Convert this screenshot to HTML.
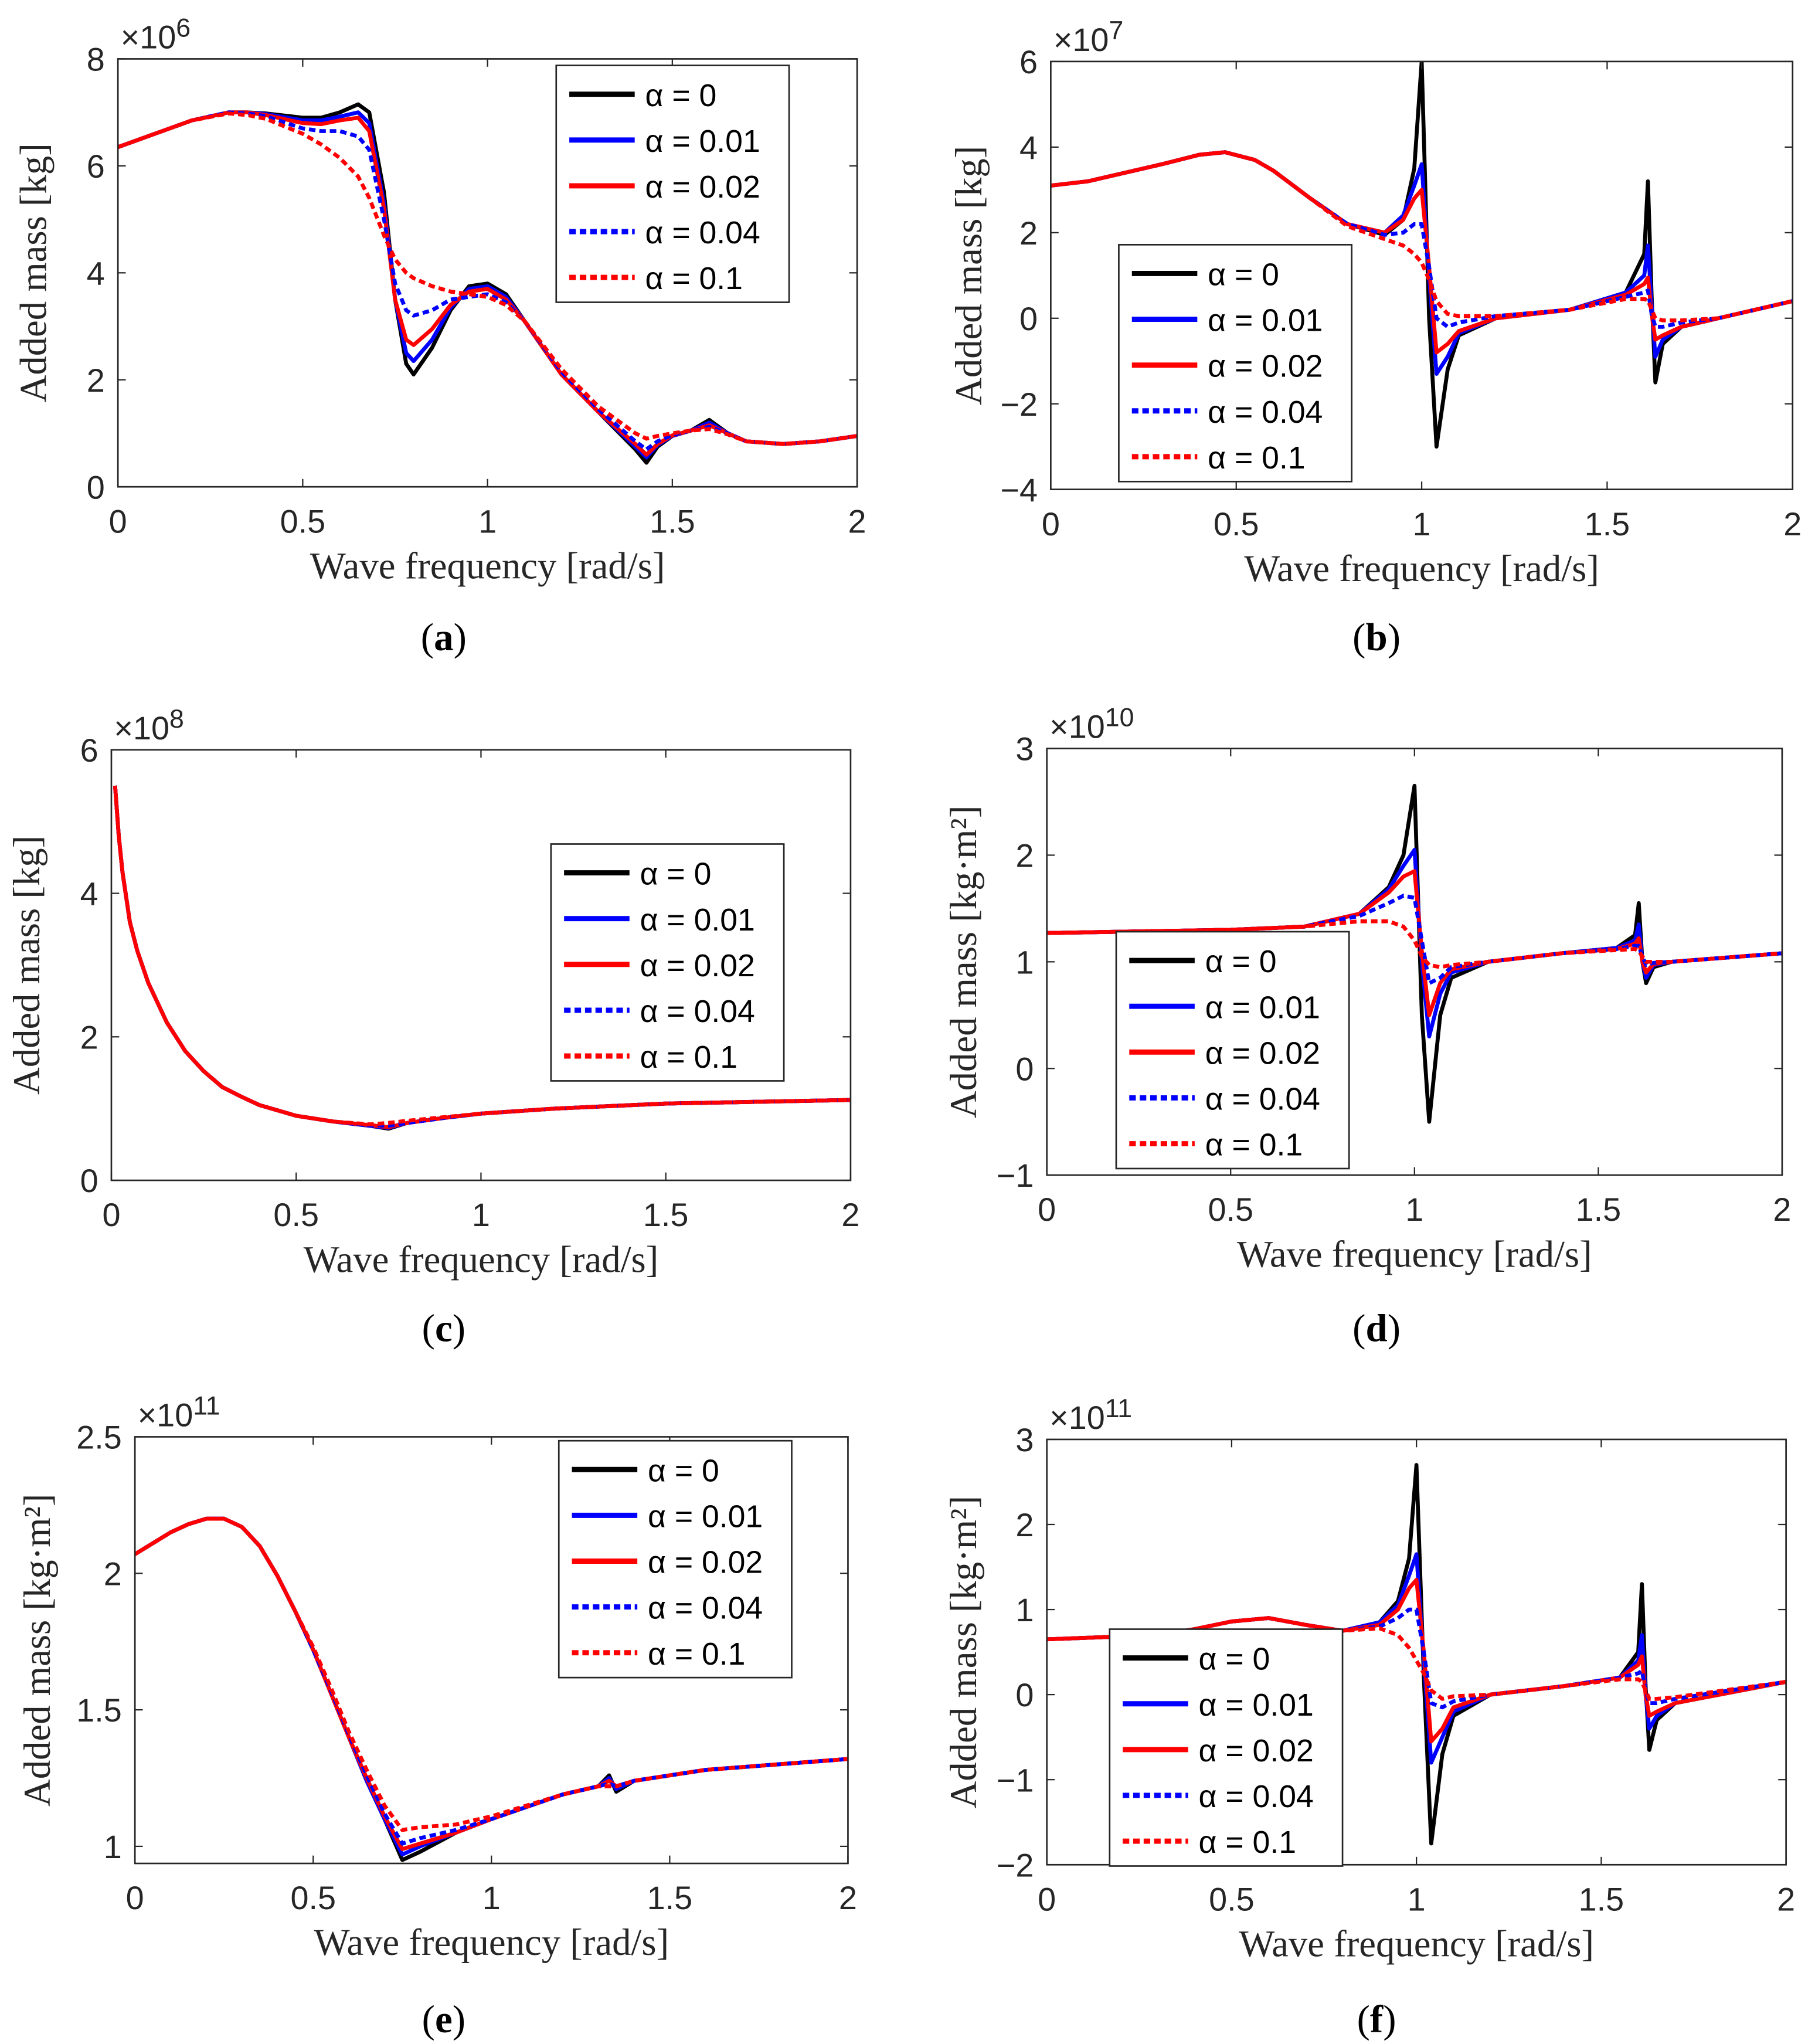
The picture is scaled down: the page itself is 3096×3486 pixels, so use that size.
<!DOCTYPE html>
<html><head><meta charset="utf-8"><style>
html,body{margin:0;padding:0;background:#fff;}
svg{display:block;}
</style></head><body>
<svg id="fig" width="3096" height="3486" viewBox="0 0 1387 1562" xmlns="http://www.w3.org/2000/svg"></svg>
<script>
// ---------- data ----------
const labels = ["α = 0","α = 0.01","α = 0.02","α = 0.04","α = 0.1"];
const xTicks = [0,0.5,1,1.5,2];
const xTickLabels = ["0","0.5","1","1.5","2"];

const aX = [0,0.1,0.2,0.3,0.35,0.4,0.5,0.55,0.6,0.65,0.68,0.72,0.75,0.78,0.8,0.85,0.9,0.95,1.0,1.05,1.1,1.2,1.3,1.4,1.43,1.46,1.5,1.55,1.6,1.65,1.7,1.8,1.9,2.0];
const aS0 = [6.35,6.6,6.85,7.0,7.0,6.98,6.9,6.9,7.0,7.15,7.0,5.5,3.5,2.3,2.1,2.6,3.3,3.75,3.8,3.6,3.1,2.1,1.4,0.7,0.45,0.75,0.95,1.05,1.25,1.0,0.85,0.8,0.85,0.95];
const aS1 = [6.35,6.6,6.85,7.0,7.0,6.97,6.85,6.85,6.92,7.0,6.8,5.3,3.5,2.5,2.35,2.75,3.35,3.7,3.75,3.55,3.1,2.1,1.4,0.75,0.55,0.78,0.95,1.05,1.2,1.0,0.85,0.8,0.85,0.95];
const aS2 = [6.35,6.6,6.85,7.0,7.0,6.95,6.8,6.78,6.85,6.9,6.65,5.2,3.5,2.75,2.65,2.95,3.4,3.65,3.7,3.5,3.1,2.1,1.4,0.8,0.6,0.8,0.96,1.05,1.15,1.0,0.85,0.8,0.85,0.95];
const aS3 = [6.35,6.6,6.85,7.0,6.98,6.93,6.7,6.65,6.65,6.55,6.3,5.0,3.8,3.3,3.2,3.3,3.5,3.55,3.6,3.45,3.1,2.15,1.45,0.85,0.7,0.85,0.97,1.05,1.12,1.0,0.85,0.8,0.85,0.95];
const aS4 = [6.35,6.6,6.85,6.98,6.95,6.88,6.6,6.4,6.15,5.8,5.4,4.7,4.25,4.0,3.9,3.75,3.65,3.6,3.55,3.4,3.1,2.2,1.5,1.0,0.9,0.95,1.0,1.05,1.08,0.98,0.85,0.8,0.85,0.95];

const bX = [0,0.1,0.2,0.3,0.4,0.47,0.55,0.6,0.7,0.8,0.9,0.95,0.98,1.0,1.02,1.04,1.07,1.1,1.2,1.4,1.55,1.6,1.61,1.62,1.63,1.65,1.7,1.8,2.0];
const bS0 = [3.1,3.2,3.4,3.6,3.82,3.88,3.7,3.45,2.8,2.2,1.95,2.3,3.5,6.0,0.0,-3.0,-1.2,-0.4,0.0,0.2,0.6,1.5,3.2,0.5,-1.5,-0.6,-0.2,0.0,0.4];
const bS1 = [3.1,3.2,3.4,3.6,3.82,3.88,3.7,3.45,2.8,2.2,2.0,2.4,3.1,3.6,1.0,-1.3,-0.9,-0.35,0.0,0.2,0.6,1.0,1.7,0.3,-0.9,-0.5,-0.2,0.0,0.4];
const bS2 = [3.1,3.2,3.4,3.6,3.82,3.88,3.7,3.45,2.8,2.2,2.0,2.3,2.8,3.0,1.2,-0.8,-0.6,-0.3,0.0,0.2,0.55,0.8,0.95,0.1,-0.5,-0.4,-0.2,0.0,0.4];
const bS3 = [3.1,3.2,3.4,3.6,3.82,3.88,3.7,3.45,2.8,2.2,1.95,2.0,2.2,2.2,1.2,0.0,-0.2,-0.1,0.05,0.2,0.5,0.6,0.65,0.1,-0.2,-0.2,-0.1,0.0,0.4];
const bS4 = [3.1,3.2,3.4,3.6,3.82,3.88,3.7,3.45,2.8,2.15,1.85,1.7,1.5,1.3,0.9,0.4,0.1,0.05,0.05,0.2,0.45,0.45,0.42,0.2,0.0,-0.05,-0.05,0.0,0.4];

const cX = [0.01,0.02,0.03,0.05,0.07,0.1,0.15,0.2,0.25,0.3,0.35,0.4,0.5,0.6,0.7,0.75,0.8,0.9,1.0,1.2,1.5,2.0];
const cS0 = [5.5,4.8,4.3,3.6,3.2,2.75,2.2,1.8,1.52,1.3,1.17,1.05,0.9,0.82,0.76,0.72,0.8,0.87,0.93,1.0,1.07,1.12];
const cS1 = [5.5,4.8,4.3,3.6,3.2,2.75,2.2,1.8,1.52,1.3,1.17,1.05,0.9,0.82,0.76,0.73,0.8,0.87,0.93,1.0,1.07,1.12];
const cS2 = [5.5,4.8,4.3,3.6,3.2,2.75,2.2,1.8,1.52,1.3,1.17,1.05,0.9,0.82,0.77,0.74,0.8,0.87,0.93,1.0,1.07,1.12];
const cS3 = [5.5,4.8,4.3,3.6,3.2,2.75,2.2,1.8,1.52,1.3,1.17,1.05,0.9,0.82,0.77,0.76,0.8,0.87,0.93,1.0,1.07,1.12];
const cS4 = [5.5,4.8,4.3,3.6,3.2,2.75,2.2,1.8,1.52,1.3,1.17,1.05,0.9,0.82,0.78,0.8,0.83,0.88,0.93,1.0,1.07,1.12];

const dX = [0,0.5,0.7,0.85,0.93,0.97,1.0,1.02,1.04,1.07,1.1,1.2,1.4,1.55,1.6,1.61,1.62,1.63,1.65,1.7,2.0];
const dS0 = [1.27,1.3,1.33,1.45,1.7,2.0,2.65,0.5,-0.5,0.5,0.85,1.0,1.08,1.13,1.25,1.55,1.0,0.8,0.95,1.0,1.08];
const dS1 = [1.27,1.3,1.33,1.45,1.68,1.9,2.05,1.0,0.3,0.7,0.9,1.0,1.08,1.13,1.2,1.35,1.0,0.85,0.97,1.0,1.08];
const dS2 = [1.27,1.3,1.33,1.45,1.65,1.8,1.85,1.1,0.5,0.8,0.93,1.0,1.08,1.12,1.17,1.22,1.0,0.9,0.98,1.0,1.08];
const dS3 = [1.27,1.3,1.33,1.43,1.55,1.62,1.6,1.2,0.8,0.85,0.95,1.0,1.08,1.12,1.15,1.15,1.05,0.97,0.99,1.0,1.08];
const dS4 = [1.27,1.3,1.33,1.38,1.38,1.33,1.2,1.05,0.97,0.95,0.97,1.0,1.08,1.11,1.12,1.1,1.05,1.0,1.0,1.0,1.08];

const eX = [0,0.05,0.1,0.15,0.2,0.25,0.3,0.35,0.4,0.45,0.5,0.55,0.6,0.65,0.7,0.75,0.8,0.9,1.0,1.2,1.3,1.33,1.35,1.4,1.6,2.0];
const eS0 = [2.07,2.11,2.15,2.18,2.2,2.2,2.17,2.1,1.99,1.86,1.72,1.56,1.4,1.24,1.1,0.95,0.98,1.05,1.1,1.19,1.22,1.26,1.2,1.24,1.28,1.32];
const eS1 = [2.07,2.11,2.15,2.18,2.2,2.2,2.17,2.1,1.99,1.86,1.72,1.56,1.4,1.24,1.1,0.97,1.0,1.05,1.1,1.19,1.22,1.25,1.21,1.24,1.28,1.32];
const eS2 = [2.07,2.11,2.15,2.18,2.2,2.2,2.17,2.1,1.99,1.86,1.72,1.56,1.4,1.25,1.11,0.99,1.01,1.05,1.1,1.19,1.22,1.24,1.22,1.24,1.28,1.32];
const eS3 = [2.07,2.11,2.15,2.18,2.2,2.2,2.17,2.1,1.99,1.86,1.72,1.57,1.41,1.26,1.12,1.01,1.03,1.06,1.1,1.19,1.22,1.23,1.22,1.24,1.28,1.32];
const eS4 = [2.07,2.11,2.15,2.18,2.2,2.2,2.17,2.1,1.99,1.86,1.73,1.58,1.42,1.28,1.15,1.06,1.07,1.08,1.11,1.19,1.22,1.22,1.22,1.24,1.28,1.32];

const fX = [0,0.3,0.4,0.5,0.6,0.7,0.8,0.9,0.95,0.98,1.0,1.02,1.04,1.07,1.1,1.2,1.4,1.55,1.6,1.61,1.62,1.63,1.65,1.7,2.0];
const fS0 = [0.65,0.7,0.77,0.86,0.9,0.82,0.75,0.85,1.1,1.6,2.7,0.2,-1.75,-0.7,-0.25,0,0.1,0.2,0.5,1.3,0.1,-0.65,-0.3,-0.1,0.15];
const fS1 = [0.65,0.7,0.77,0.86,0.9,0.82,0.75,0.85,1.05,1.4,1.65,0.4,-0.8,-0.5,-0.2,0,0.1,0.2,0.4,0.7,0.0,-0.4,-0.25,-0.1,0.15];
const fS2 = [0.65,0.7,0.77,0.86,0.9,0.82,0.75,0.82,1.0,1.25,1.35,0.5,-0.55,-0.4,-0.15,0,0.1,0.2,0.35,0.45,0.0,-0.25,-0.2,-0.1,0.15];
const fS3 = [0.65,0.7,0.77,0.86,0.9,0.82,0.75,0.8,0.9,1.0,1.0,0.5,-0.1,-0.15,-0.08,0,0.1,0.2,0.25,0.28,0.05,-0.1,-0.1,-0.05,0.15];
const fS4 = [0.65,0.7,0.77,0.86,0.9,0.82,0.75,0.78,0.7,0.55,0.4,0.25,0.05,-0.05,-0.02,0,0.1,0.18,0.18,0.15,0.05,-0.05,-0.05,-0.03,0.15];

const aYTicks=[0,2,4,6,8], bYTicks=[-4,-2,0,2,4,6], cYTicks=[0,2,4,6], dYTicks=[-1,0,1,2,3], eYTicks=[1,1.5,2,2.5], fYTicks=[-2,-1,0,1,2,3];

// ---------- layout ----------
const styles=[{c:"#000",d:""},{c:"#0000ff",d:""},{c:"#ff0000",d:""},{c:"#0000ff",d:"5,3"},{c:"#ff0000",d:"5,3"}];
const panels=[
 {id:"a",x0:90,x1:655,y0:45,y1:372,ymin:0,ymax:8,yt:aYTicks,xs:aX,ser:[aS0,aS1,aS2,aS3,aS4],exp:"6",yl:"Added mass [kg]",ylx:27,leg:[425,50],cap:487},
 {id:"b",x0:803,x1:1370,y0:47,y1:374,ymin:-4,ymax:6,yt:bYTicks,xs:bX,ser:[bS0,bS1,bS2,bS3,bS4],exp:"7",yl:"Added mass [kg]",ylx:742,leg:[855,187],cap:487},
 {id:"c",x0:85,x1:650,y0:573,y1:902,ymin:0,ymax:6,yt:cYTicks,xs:cX,ser:[cS0,cS1,cS2,cS3,cS4],exp:"8",yl:"Added mass [kg]",ylx:22,leg:[421,645],cap:1015},
 {id:"d",x0:800,x1:1362,y0:572,y1:898,ymin:-1,ymax:3,yt:dYTicks,xs:dX,ser:[dS0,dS1,dS2,dS3,dS4],exp:"10",yl:"Added mass [kg·m²]",ylx:738,leg:[853,712],cap:1015},
 {id:"e",x0:103,x1:648,y0:1098,y1:1424,ymin:0.9375,ymax:2.5,yt:eYTicks,xs:eX,ser:[eS0,eS1,eS2,eS3,eS4],exp:"11",yl:"Added mass [kg·m²]",ylx:30,leg:[427,1101],cap:1543},
 {id:"f",x0:800,x1:1365,y0:1100,y1:1425,ymin:-2,ymax:3,yt:fYTicks,xs:fX,ser:[fS0,fS1,fS2,fS3,fS4],exp:"11",yl:"Added mass [kg·m²]",ylx:738,leg:[848,1245],cap:1543}
];
const NS="http://www.w3.org/2000/svg";
const svg=document.getElementById("fig");
function mk(tag,attrs,parent,txt){const e=document.createElementNS(NS,tag);for(const k in attrs)e.setAttribute(k,attrs[k]);if(txt!==undefined)e.textContent=txt;parent.appendChild(e);return e;}
const SANS='"Liberation Sans", Arial, sans-serif', SERIF='"Liberation Serif", "Times New Roman", serif';
panels.forEach(p=>{
 const g=mk("g",{},svg);
 
 
 const sx=v=>p.x0+(v-0)/(2-0)*(p.x1-p.x0);
 const sy=v=>p.y1-(v-p.ymin)/(p.ymax-p.ymin)*(p.y1-p.y0);
 const cp="clip-"+p.id;
 const cl=mk("clipPath",{id:cp},g);mk("rect",{x:p.x0,y:p.y0,width:p.x1-p.x0,height:p.y1-p.y0},cl);
 p.ser.forEach((s,i)=>{
  const pts=s.map((v,k)=>sx(p.xs[k]).toFixed(2)+","+sy(v).toFixed(2)).join(" ");
  const l=mk("polyline",{points:pts,fill:"none",stroke:styles[i].c,"stroke-width":3,"stroke-dasharray":styles[i].d,"stroke-linejoin":"round","clip-path":"url(#"+cp+")"},g);
  
  
 });
 const box=mk("rect",{x:p.x0,y:p.y0,width:p.x1-p.x0,height:p.y1-p.y0,fill:"none",stroke:"#262626","stroke-width":1.2},g);
 
 
 xTicks.forEach((t,i)=>{
  const x=sx(t);
  mk("line",{x1:x,x2:x,y1:p.y1,y2:p.y1-6,stroke:"#262626","stroke-width":1},g);
  mk("line",{x1:x,x2:x,y1:p.y0,y2:p.y0+6,stroke:"#262626","stroke-width":1},g);
  const t2=mk("text",{x:x,y:p.y1+35,"text-anchor":"middle","font-family":SANS,"font-size":25,fill:"#262626"},g,xTickLabels[i]);
  
  
 });
 p.yt.forEach(t=>{
  const y=sy(t);
  mk("line",{x1:p.x0,x2:p.x0+6,y1:y,y2:y,stroke:"#262626","stroke-width":1},g);
  mk("line",{x1:p.x1,x2:p.x1-6,y1:y,y2:y,stroke:"#262626","stroke-width":1},g);
  const t2=mk("text",{x:p.x0-10,y:y+9,"text-anchor":"end","font-family":SANS,"font-size":25,fill:"#262626"},g,(t<0?"−":"")+Math.abs(t));
  
  
 });
 const ex=mk("text",{x:p.x0+2,y:p.y0-8,"font-family":SANS,"font-size":25,fill:"#262626"},g);
 
 
 mk("tspan",{},ex,"×10");mk("tspan",{dy:-9,"font-size":20},ex,p.exp);
 const xl=mk("text",{x:(p.x0+p.x1)/2,y:p.y1+70,"text-anchor":"middle","font-family":SERIF,"font-size":29,fill:"#262626"},g,"Wave frequency [rad/s]");
 
 
 const cy=(p.y0+p.y1)/2;
 const yl=mk("text",{x:p.ylx+8,y:cy,"text-anchor":"middle","font-family":SERIF,"font-size":29,fill:"#262626",transform:"rotate(-90 "+(p.ylx+8)+" "+cy+")"},g,p.yl);
 
 
 const cap=mk("text",{x:(p.id.charCodeAt(0)%2? 339:1052),y:p.cap+10,"text-anchor":"middle","font-family":SERIF,"font-size":30,fill:"#000"},g);
 
 
 mk("tspan",{},cap,"(");mk("tspan",{"font-weight":"bold"},cap,p.id);mk("tspan",{},cap,")");
 const lg=mk("g",{},g);
 
 
 const [lx,ly]=p.leg;
 mk("rect",{x:lx,y:ly,width:178,height:181,fill:"#fff",stroke:"#262626","stroke-width":1.2},lg);
 labels.forEach((lab,i)=>{
  const yy=ly+22+i*35;
  const ln=mk("line",{x1:lx+10,x2:lx+60,y1:yy,y2:yy,stroke:styles[i].c,"stroke-width":4,"stroke-dasharray":styles[i].d},lg);
  
  
  const tx=mk("text",{x:lx+68,y:yy+9,"font-family":SANS,"font-size":24,fill:"#000"},lg,lab);
  
  
 });
});
</script>
</body></html>
